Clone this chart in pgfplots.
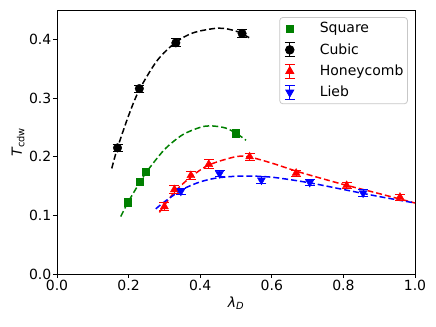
\documentclass[border=0pt]{standalone}
\usepackage{fontspec}
\setmainfont{DejaVu Sans}
\usepackage{pgfplots}
\pgfplotsset{compat=1.18}
\definecolor{mplgreen}{RGB}{0,128,0}
\pgfplotsset{
  ebleg/.style={legend image code/.code={
    \path[draw=none, fill=none] (0pt,-7pt) rectangle (36pt,7pt);
    \draw[#1, line width=1pt] (8pt,-7pt) -- (8pt,7pt);
    \draw[#1, line width=1pt] (3pt,7pt) -- (13pt,7pt);
    \draw[#1, line width=1pt] (3pt,-7pt) -- (13pt,-7pt);
    \draw[mark repeat=2,mark phase=2,##1] plot coordinates {(0pt,0pt)(8pt,0pt)(16pt,0pt)};
  }},
  sqleg/.style={legend image code/.code={
    \path[draw=none, fill=none] (0pt,-7pt) rectangle (36pt,7pt);
    \draw[mark repeat=2,mark phase=2,##1] plot coordinates {(0pt,0pt)(8pt,0pt)(16pt,0pt)};
  }},
}
\begin{document}
\fontsize{14}{17}\selectfont
\begin{tikzpicture}
\begin{axis}[
  width=358pt, height=264pt, scale only axis,
  xmin=0, xmax=1, ymin=0, ymax=0.45,
  xtick={0,0.2,0.4,0.6,0.8,1.0},
  ytick={0,0.1,0.2,0.3,0.4},
  tick align=outside, xtick pos=bottom, ytick pos=left,
  major tick length=4pt,
  every tick/.style={black, line width=0.9pt},
  axis line style={line width=0.9pt},
  /pgf/number format/assume math mode=true,
  /pgf/number format/fixed, /pgf/number format/fixed zerofill, /pgf/number format/precision=1,
  ticklabel style={font=\fontsize{14}{17}\selectfont},
  yticklabel style={inner sep=1.5pt},
  xticklabel style={inner sep=1.5pt},
  xlabel={{\itshape λ}\textsubscript{\itshape D}},
  ylabel={{\itshape T}\textsubscript{cdw}},
  label style={font=\fontsize{14}{17}\selectfont},
  xlabel style={at={([yshift=-29pt]axis description cs:0.5,0)}, anchor=center},
  ylabel style={at={([xshift=-39pt]axis description cs:0,0.5)}, anchor=center},
  legend style={at={(0.98,0.973)}, anchor=north east, draw=black!22, line width=0.8pt, rounded corners=3pt,
    font=\fontsize{14}{17}\selectfont, row sep=4.5pt, inner xsep=2pt, inner ysep=3pt},
  legend cell align=left,
]
% fitted curves
\addplot[black, line width=1.5pt, dash pattern=on 6pt off 3pt, smooth, forget plot] coordinates {
 (0.153,0.180) (0.169,0.215) (0.20,0.270) (0.23,0.314) (0.28,0.364) (0.33,0.394) (0.38,0.411) (0.45,0.419) (0.50,0.414) (0.542,0.401)};
\addplot[mplgreen, line width=1.5pt, dash pattern=on 6pt off 3pt, smooth, forget plot] coordinates {
 (0.178,0.098) (0.20,0.124) (0.235,0.160) (0.25,0.174) (0.30,0.212) (0.35,0.237) (0.40,0.250) (0.43,0.2525) (0.47,0.249) (0.50,0.240) (0.528,0.228)};
\addplot[red, line width=1.5pt, dash pattern=on 6pt off 3pt, smooth, forget plot] coordinates {
 (0.286,0.105) (0.30,0.117) (0.33,0.141) (0.375,0.166) (0.425,0.186) (0.50,0.200) (0.54,0.199) (0.60,0.189) (0.67,0.175) (0.75,0.161) (0.81,0.151) (0.90,0.137) (1.0,0.121)};
\addplot[blue, line width=1.5pt, dash pattern=on 6pt off 3pt, smooth, forget plot] coordinates {
 (0.276,0.111) (0.30,0.123) (0.35,0.144) (0.40,0.157) (0.45,0.164) (0.52,0.167) (0.60,0.165) (0.70,0.156) (0.80,0.144) (0.90,0.132) (1.0,0.121)};
% data
\addplot[only marks, mark=square*, mark size=3.6pt, color=mplgreen, sqleg] coordinates {
 (0.197,0.1225) (0.232,0.157) (0.248,0.174) (0.499,0.240)};
\addlegendentry{Square}
\addplot[only marks, mark=*, mark size=4.3pt, color=black, ebleg=black,
  error bars/.cd, y dir=both, y explicit, error bar style={line width=1pt, black},
  error mark options={rotate=90, mark size=5pt, line width=1pt, black},
  ] coordinates {
 (0.169,0.215) +- (0,0.006) (0.230,0.316) +- (0,0.006) (0.332,0.394) +- (0,0.007) (0.517,0.410) +- (0,0.007)};
\addlegendentry{Cubic}
\addplot[only marks, mark=triangle*, mark size=4.6pt, color=red, ebleg=red,
  error bars/.cd, y dir=both, y explicit, error bar style={line width=1pt, red},
  error mark options={rotate=90, mark size=5pt, line width=1pt, red},
  ] coordinates {
 (0.300,0.115) +- (0,0.007) (0.328,0.144) +- (0,0.007) (0.374,0.168) +- (0,0.007) (0.424,0.187) +- (0,0.008)
 (0.538,0.200) +- (0,0.006) (0.668,0.172) +- (0,0.005) (0.809,0.151) +- (0,0.005) (0.958,0.131) +- (0,0.005)};
\addlegendentry{Honeycomb}
\addplot[only marks, mark=triangle*, mark options={rotate=180}, mark size=4.6pt, color=blue, ebleg=blue,
  error bars/.cd, y dir=both, y explicit, error bar style={line width=1pt, blue},
  error mark options={rotate=90, mark size=5pt, line width=1pt, blue},
  ] coordinates {
 (0.346,0.141) +- (0,0.005) (0.454,0.171) +- (0,0.005) (0.571,0.160) +- (0,0.006) (0.706,0.156) +- (0,0.005) (0.855,0.138) +- (0,0.006)};
\addlegendentry{Lieb}
\end{axis}
\pgfresetboundingbox
\path[use as bounding box] ([shift={(-57pt,-53pt)}]current axis.south west) rectangle ([shift={(21pt,10pt)}]current axis.north east);
\end{tikzpicture}
\end{document}
